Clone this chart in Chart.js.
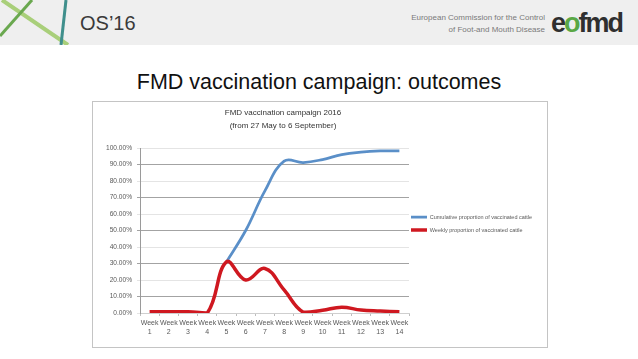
<!DOCTYPE html>
<html><head><meta charset="utf-8">
<script src="https://cdn.jsdelivr.net/npm/chart.js@4.4.1/dist/chart.umd.min.js"></script>
<style>
html,body{margin:0;padding:0;background:#fff;}
body{width:638px;height:359px;position:relative;overflow:hidden;font-family:"Liberation Sans",Arial,sans-serif;}
#header{position:absolute;left:0;top:0;width:638px;height:45px;background:#efefef;}
#deco{position:absolute;left:0;top:0;}
#os{position:absolute;left:80px;top:11px;font-size:20px;line-height:24px;color:#3a3a3a;}
#ec{position:absolute;right:93px;top:12px;font-size:8px;line-height:12px;color:#7a7a7a;text-align:right;}
#logo{position:absolute;left:551px;top:8px;font-size:27px;line-height:30px;font-weight:bold;color:#2f2f2f;letter-spacing:-2px;}
#logo span{color:#5aa845;}
#title{position:absolute;left:0;width:638px;top:69px;text-align:center;font-size:21.5px;line-height:26px;color:#111;}
#box{position:absolute;left:92px;top:101px;width:454px;height:245px;border:1px solid #c4c4c4;}
#wrap{position:absolute;left:93px;top:102px;width:454px;height:245px;}
</style>
</head><body>
<div id="header">
<svg id="deco" width="80" height="45">
<line x1="2" y1="0" x2="68" y2="45" stroke="#a9cf7a" stroke-width="4"/>
<line x1="32" y1="0" x2="0" y2="36" stroke="#6aa84f" stroke-width="3"/>
<line x1="66" y1="0" x2="61" y2="45" stroke="#3f8f8c" stroke-width="3"/>
</svg>
<div id="os">OS’16</div>
<div id="ec">European Commission for the Control<br>of Foot-and Mouth Disease</div>
<div id="logo">e<span>o</span>fmd</div>
</div>
<div id="title">FMD vaccination campaign: outcomes</div>
<div id="box"></div>
<div id="wrap"><canvas id="c" width="454" height="245"></canvas></div>
<script>
const weekWord = 'Week';
const weekNumbers = ['1','2','3','4','5','6','7','8','9','10','11','12','13','14'];
const cumulative = [null, null, null, null, 0.31, 0.50, 0.74, 0.92, 0.912, 0.93, 0.96, 0.975, 0.982, 0.983];
const weekly = [0.007, 0.007, 0.007, 0.0, 0.31, 0.20, 0.27, 0.14, 0.005, 0.017, 0.035, 0.018, 0.012, 0.007];
const seriesNames = ['Cumulative proportion of vaccinated cattle', 'Weekly proportion of vaccinated cattle'];
const chartTitle = ['FMD vaccination campaign 2016', '(from 27 May to 6 September)'];

const labels = weekNumbers.map(n => [weekWord, n]);

const nudge = {
  id: 'nudge',
  afterLayout(chart) {
    const l = chart.legend;
    if (l) { l.left -= 5.5; l.right -= 5.5; l.top -= 1; l.bottom -= 1; }
    const t = chart.titleBlock;
    if (t) { t.left += 17; }
  }
};

new Chart(document.getElementById('c'), {
  type: 'line',
  data: {
    labels: labels,
    datasets: [
      { label: seriesNames[0], data: cumulative, borderColor: '#5a8fc8', backgroundColor: '#5a8fc8',
        borderWidth: 2.75, pointRadius: 0, tension: 0.4, order: 2 },
      { label: seriesNames[1], data: weekly, borderColor: '#cf1820', backgroundColor: '#cf1820',
        borderWidth: 3.5, pointRadius: 0, tension: 0.4, order: 1 }
    ]
  },
  options: {
    responsive: false,
    animation: false,
    layout: { padding: 0 },
    plugins: {
      title: {
        display: true, text: chartTitle, fullSize: false, color: '#333',
        font: { family: '"Liberation Sans", Arial, sans-serif', size: 8, weight: 'normal', lineHeight: 1.6 },
        padding: { top: 4.6, bottom: 15.8 }
      },
      legend: {
        position: 'right', maxWidth: 138,
        labels: {
          usePointStyle: true, pointStyle: 'line', pointStyleWidth: 16, padding: 7.5, color: '#595959',
          sort: (a, b) => a.datasetIndex - b.datasetIndex,
          font: { family: '"Liberation Sans", Arial, sans-serif', size: 5.5 }
        }
      },
      tooltip: { enabled: false }
    },
    scales: {
      x: {
        offset: true,
        afterFit: s => { s.height = 34; },
        grid: { drawOnChartArea: false, drawTicks: true, tickLength: 3, offset: true, color: '#bdbdbd' },
        border: { color: '#cfcfcf' },
        ticks: { autoSkip: false, maxRotation: 0, minRotation: 0, padding: 2.5, color: '#595959',
          font: { family: '"Liberation Sans", Arial, sans-serif', size: 7, lineHeight: 1.3 } }
      },
      y: {
        min: 0, max: 1,
        afterFit: s => { s.width = 47; },
        grid: {
          tickLength: 3,
          color: c => (Math.round(c.tick.value * 10) % 2 === 1 ? '#a3a3a3' : '#e4e4e4'),
          tickColor: c => (Math.round(c.tick.value * 10) % 2 === 1 ? '#a3a3a3' : '#e4e4e4')
        },
        border: { color: '#9a9a9a' },
        ticks: { stepSize: 0.1, padding: 5, color: '#595959',
          callback: v => (v * 100).toFixed(2) + '%',
          font: { family: '"Liberation Sans", Arial, sans-serif', size: 6.6 } }
      }
    }
  },
  plugins: [nudge]
});
</script>
</body></html>
